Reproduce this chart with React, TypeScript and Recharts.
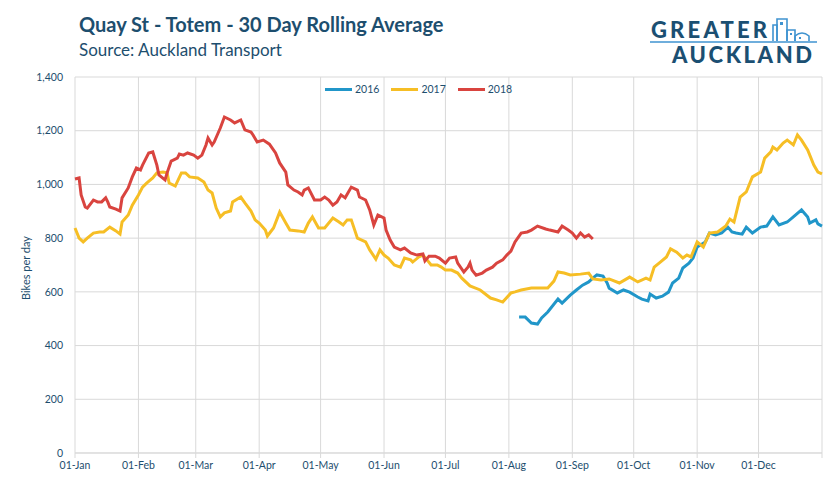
import React from "react";
import { LineChart, Line, XAxis, YAxis, CartesianGrid, Legend } from "recharts";

// day of year (0 = 01-Jan) and bikes per day
const days2016 = [217, 220, 223, 226, 228, 231, 236, 238, 242, 245, 248, 251, 253, 255, 258, 260, 261, 265, 268, 271, 275, 277, 280, 281, 284, 287, 290, 292, 295, 297, 300, 302, 304, 308, 310, 313, 316, 319, 321, 323, 326, 328, 331, 335, 338, 341, 344, 348, 351, 355, 358, 359, 362, 363, 365];
const bikes2016 = [506, 506, 484, 480, 503, 525, 573, 558, 588, 607, 625, 637, 651, 663, 659, 633, 614, 596, 607, 599, 581, 573, 566, 592, 577, 584, 599, 633, 651, 689, 707, 726, 767, 786, 819, 812, 819, 841, 823, 819, 815, 841, 819, 841, 845, 879, 849, 860, 879, 905, 879, 856, 868, 853, 845];

const days2017 = [0, 2, 4, 6, 9, 12, 14, 17, 20, 22, 23, 26, 28, 31, 33, 35, 38, 40, 43, 45, 46, 49, 52, 54, 56, 60, 63, 65, 67, 69, 71, 73, 76, 77, 81, 83, 86, 88, 90, 93, 94, 97, 100, 103, 105, 109, 112, 114, 116, 119, 122, 126, 129, 131, 133, 135, 138, 142, 144, 147, 149, 151, 153, 156, 159, 161, 164, 165, 168, 170, 172, 174, 177, 179, 181, 184, 187, 189, 193, 198, 203, 206, 209, 213, 215, 218, 223, 231, 234, 236, 239, 242, 247, 251, 253, 257, 261, 266, 271, 275, 279, 281, 283, 286, 289, 291, 294, 297, 299, 301, 304, 307, 310, 314, 318, 320, 322, 325, 328, 331, 335, 337, 340, 341, 343, 346, 348, 351, 353, 355, 358, 361, 363, 365];
const bikes2017 = [838, 800, 786, 800, 819, 823, 823, 841, 827, 815, 860, 886, 923, 961, 990, 1005, 1024, 1043, 1046, 1043, 1005, 994, 1043, 1043, 1028, 1024, 1009, 979, 968, 912, 879, 894, 901, 935, 953, 931, 901, 868, 856, 830, 808, 838, 897, 856, 830, 827, 823, 856, 879, 838, 838, 875, 860, 849, 868, 868, 800, 786, 756, 722, 756, 737, 726, 700, 692, 726, 719, 711, 730, 737, 719, 700, 700, 692, 681, 681, 670, 651, 622, 607, 577, 570, 562, 596, 600, 607, 614, 614, 640, 674, 670, 663, 666, 670, 648, 644, 648, 633, 655, 637, 651, 644, 692, 711, 730, 760, 748, 726, 737, 730, 786, 767, 819, 823, 845, 871, 860, 953, 972, 1028, 1046, 1098, 1121, 1139, 1128, 1154, 1165, 1147, 1184, 1165, 1128, 1072, 1046, 1039];

const days2018 = [0, 2, 3, 5, 6, 9, 11, 13, 15, 16, 17, 20, 22, 23, 26, 28, 30, 32, 33, 36, 38, 40, 41, 44, 45, 47, 50, 51, 53, 55, 58, 60, 62, 64, 65, 67, 68, 71, 73, 76, 78, 81, 83, 86, 87, 89, 92, 95, 98, 100, 103, 104, 107, 109, 111, 112, 114, 117, 120, 122, 124, 126, 128, 130, 132, 135, 138, 139, 142, 144, 146, 148, 151, 152, 154, 156, 159, 161, 164, 167, 170, 171, 173, 176, 178, 181, 183, 186, 187, 190, 192, 193, 194, 196, 199, 201, 204, 206, 209, 211, 213, 215, 218, 221, 223, 226, 230, 232, 236, 238, 241, 243, 245, 247, 249, 251, 253];
const bikes2018 = [1020, 1024, 961, 916, 912, 942, 935, 935, 950, 935, 916, 908, 901, 950, 987, 1028, 1061, 1054, 1072, 1117, 1121, 1072, 1035, 1017, 1043, 1087, 1098, 1113, 1109, 1117, 1109, 1098, 1109, 1147, 1173, 1147, 1158, 1210, 1251, 1240, 1229, 1240, 1203, 1195, 1184, 1158, 1165, 1150, 1117, 1080, 1046, 998, 979, 972, 961, 979, 987, 942, 942, 953, 942, 923, 935, 961, 950, 990, 979, 953, 942, 905, 849, 886, 875, 830, 793, 767, 756, 763, 745, 737, 741, 715, 733, 733, 726, 707, 726, 730, 707, 674, 692, 707, 681, 662, 670, 681, 692, 707, 719, 737, 752, 786, 819, 823, 830, 845, 834, 830, 823, 845, 830, 819, 800, 819, 804, 812, 797];

const monthTicks = [0, 31, 59, 90, 120, 151, 181, 212, 243, 273, 304, 334, 365];
const monthLabels = ["01-Jan", "01-Feb", "01-Mar", "01-Apr", "01-May", "01-Jun", "01-Jul", "01-Aug", "01-Sep", "01-Oct", "01-Nov", "01-Dec", ""];
const yTicks = [0, 200, 400, 600, 800, 1000, 1200, 1400];

const toRows = (days: number[], vals: number[]) => days.map((d, i) => ({ day: d, bikes: vals[i] }));

const INK = "#1d4e6e";
const GRID = "#d9d9d9";
const FONT = "Lato, 'Open Sans', sans-serif";

const renderLegend = (props: any) => {
  const { payload } = props;
  return (
    <div style={{ display: "flex", gap: 12, fontFamily: FONT, fontSize: 10.5, color: INK }}>
      {payload.map((p: any) => (
        <div key={p.value} style={{ display: "flex", alignItems: "center", gap: 3 }}>
          <span style={{ display: "inline-block", width: 27, height: 3, background: p.color }} />
          <span>{p.value}</span>
        </div>
      ))}
    </div>
  );
};

function Logo() {
  return (
    <svg width={180} height={70} style={{ position: "absolute", left: 645, top: 0 }}>
      <text x={6} y={38} fontFamily={FONT} fontWeight={900} fontSize={22} fill="#1b4f72" textLength={116} lengthAdjust="spacing">
        GREATER
      </text>
      <line x1={5} y1={42} x2={172} y2={42} stroke="#3f93d0" strokeWidth={1.5} />
      <g fill="none" stroke="#3f93d0" strokeWidth={1.6}>
        <path d="M128 41 V25 H132 V41" />
        <path d="M132 41 V19 H142 V41" />
        <path d="M142 41 V30 H150 V41" />
        <path d="M150 41 V36 Q157 30 164 36 V41" />
      </g>
      <rect x={135} y={22} width={3} height={3} fill="#3f93d0" />
      <rect x={145} y={33} width={2} height={2} fill="#3f93d0" />
      <rect x={154} y={37} width={2} height={2} fill="#3f93d0" />
      <text x={27} y={63} fontFamily={FONT} fontWeight={900} fontSize={22} fill="#1b4f72" textLength={140} lengthAdjust="spacing">
        AUCKLAND
      </text>
    </svg>
  );
}

export default function App() {
  return (
    <div style={{ position: "absolute", left: 0, top: 0, width: 838, height: 484, background: "#fff", fontFamily: FONT }}>
      <div style={{ position: "absolute", left: 79, top: 12, fontSize: 20, fontWeight: 700, color: INK, whiteSpace: "nowrap" }}>
        Quay St - Totem - 30 Day Rolling Average
      </div>
      <div style={{ position: "absolute", left: 79, top: 39, fontSize: 17, color: INK, whiteSpace: "nowrap" }}>
        Source: Auckland Transport
      </div>
      <Logo />
      <div
        style={{
          position: "absolute",
          left: 25,
          top: 268,
          transform: "translate(-50%, -50%) rotate(-90deg)",
          fontSize: 11,
          color: INK,
          whiteSpace: "nowrap",
        }}
      >
        Bikes per day
      </div>
      <div style={{ position: "absolute", left: 0, top: 0 }}>
        <LineChart width={838} height={484} margin={{ top: 77, right: 16, bottom: 0, left: 0 }}>
          <CartesianGrid stroke={GRID} />
          <XAxis
            dataKey="day"
            type="number"
            domain={[0, 365]}
            ticks={monthTicks}
            tickFormatter={(v: number) => monthLabels[monthTicks.indexOf(v)]}
            height={31}
            tick={{ fill: INK, fontSize: 10.5, fontFamily: FONT }}
            axisLine={{ stroke: GRID }}
            tickLine={{ stroke: GRID }}
            tickSize={5}
            tickMargin={4}
            interval={0}
          />
          <YAxis
            type="number"
            domain={[0, 1400]}
            ticks={yTicks}
            tickFormatter={(v: number) => v.toLocaleString("en-US")}
            width={75}
            tick={{ fill: INK, fontSize: 10.5, fontFamily: FONT }}
            axisLine={false}
            tickLine={false}
            tickMargin={6}
          />
          <Legend
            content={renderLegend}
            layout="horizontal"
            verticalAlign="middle"
            align="center"
            wrapperStyle={{ top: 83, left: 325, width: "auto" }}
          />
          <Line data={toRows(days2016, bikes2016)} dataKey="bikes" name="2016" stroke="#2196c9" strokeWidth={3} dot={false} isAnimationActive={false} />
          <Line data={toRows(days2017, bikes2017)} dataKey="bikes" name="2017" stroke="#f6be25" strokeWidth={3} dot={false} isAnimationActive={false} />
          <Line data={toRows(days2018, bikes2018)} dataKey="bikes" name="2018" stroke="#d9443f" strokeWidth={3} dot={false} isAnimationActive={false} />
        </LineChart>
      </div>
    </div>
  );
}
